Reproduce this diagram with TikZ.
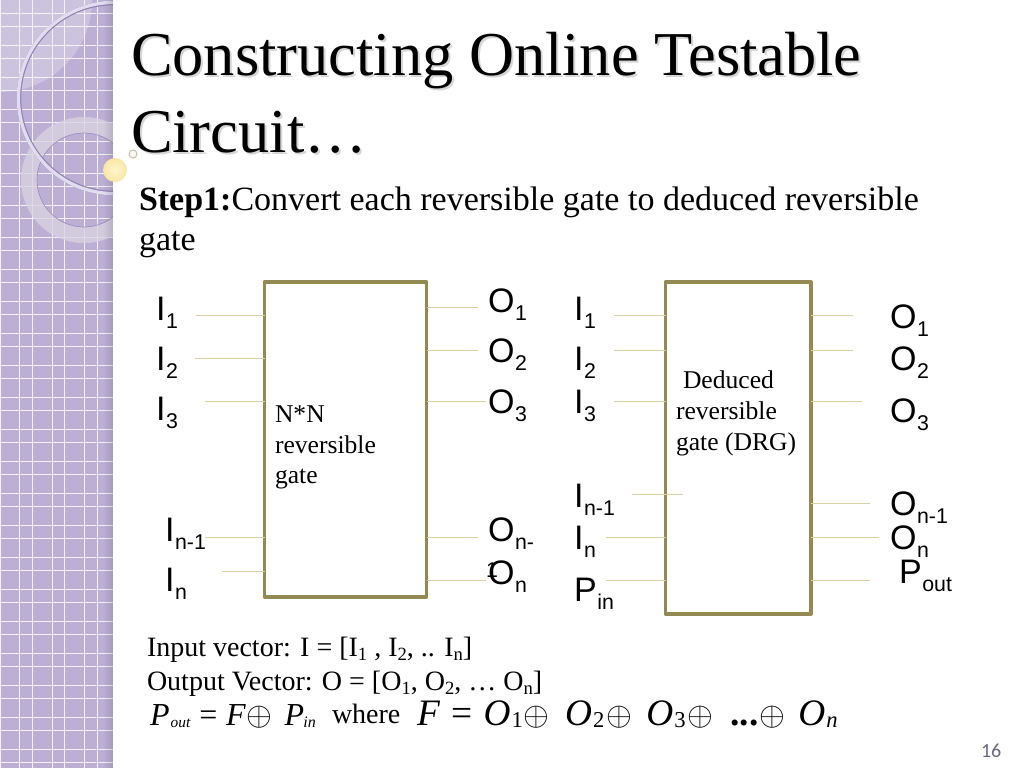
\documentclass[tikz,border=0pt]{standalone}
\usepackage{fontspec}
\setmainfont{Liberation Serif}
\newfontfamily\arialf{Liberation Sans}
\newfontfamily\pagef{Carlito}
\usetikzlibrary{calc}
\definecolor{sidebar}{HTML}{BCAFD5}
\definecolor{boxline}{HTML}{938953}
\definecolor{wire}{HTML}{D8CFA2}
\definecolor{gridline}{HTML}{F4F1F9}
\definecolor{arcdark}{HTML}{8F84B2}
\definecolor{arclight}{HTML}{E2DDEE}
\definecolor{ringfill}{HTML}{D8D4E0}
\definecolor{ringedge}{HTML}{9A8FBA}
\definecolor{pagenum}{HTML}{6C6780}
\definecolor{sunin}{HTML}{FFF6CC}
\definecolor{sunout}{HTML}{F8E6A4}
\newcommand\fsz[1]{\fontsize{#1}{#1}\selectfont}
\newcommand\lbl[2]{{\arialf\fsz{25.5}#1\kern0.5pt\raisebox{-6.5pt}{\fsz{16}#2}}}
\newcommand\vsub[1]{\raisebox{-3pt}{\fsz{14}#1}}
\newcommand\place[2]{\rlap{\kern#1pt #2}}
\newcommand\xorsym{\fsz{30}$\oplus$}
\tikzset{
  txt/.style={anchor=base west,inner sep=0pt,outer sep=0pt,text=black},
  titletxt/.style={txt,font=\fsz{46.8}},
  shadowtxt/.style={txt,font=\fsz{46.8},text=black!16},
  steptxt/.style={txt,font=\fsz{25.5}},
  gatetxt/.style={txt,font=\fsz{19.2}},
  vectxt/.style={txt,font=\fsz{21}},
  gatebox/.style={draw=boxline,line width=2.5pt,fill=white,inner sep=0pt,outer sep=0pt,line join=round},
  wireline/.style={draw=wire,line width=0.75pt},
}
\begin{document}
\begin{tikzpicture}[x=0.75pt,y=-0.75pt]
\useasboundingbox (0,0) rectangle (1024,768);
\fill[white] (0,0) rectangle (1024,768);
% sidebar
\begin{scope}
\clip (0,0) rectangle (113,768);
\fill[sidebar] (0,0) rectangle (113,768);
\fill[white,opacity=0.25] (0,0) circle[radius=92];
\foreach \k in {0,...,23}{
  \draw[gridline,line width=0.7pt] (0,13+32*\k) -- (113,13+32*\k);
  \draw[gridline,line width=0.7pt] (0,26+32*\k) -- (113,26+32*\k);
}
\foreach \vx in {0,19,32,52,64,84,97}{
  \draw[gridline,line width=0.7pt] (\vx,0) -- (\vx,768);
}
% ring
\fill[ringfill,opacity=0.78,even odd rule] (84,180) circle[radius=63] (84,180) circle[radius=47];
\draw[ringedge,line width=0.5pt] (84,180) circle[radius=47];
% large arc
\draw[arcdark,line width=3.4pt] (114,98) circle[radius=95];
\draw[arclight,line width=2.5pt] (114,98) circle[radius=95.6];
% shadow at the edge
\foreach \k in {0,...,9}{
  \fill[black!60!sidebar,opacity=0.02*\k] (103+\k,0) rectangle (104+\k,768);
}
\end{scope}
\shade[inner color=sunin,outer color=sunout] (115,170) circle[radius=12];
\draw[draw=boxline!55,fill=white!94!boxline,line width=0.7pt] (133,154) circle[radius=4];
% title
\node[shadowtxt] at (133,77) {Constructing Online Testable};
\node[shadowtxt] at (133,154.5) {Circuit…};
\node[titletxt] (title1) at (131,75) {Constructing Online Testable};
\node[titletxt] (title2) at (131,152.5) {Circuit…};
\node[steptxt] (step1) at (139,210) {\textbf{Step1:}Convert each reversible gate to deduced reversible};
\node[steptxt] (step2) at (139,250) {gate};
% boxes
\node[gatebox,minimum width=121.5pt,minimum height=236.25pt,anchor=north west] (lbox) at (264.5,282) {};
\node[gatebox,minimum width=109pt,minimum height=249pt,anchor=north west] (rbox) at (665.5,282) {};
% free ends of the wires
\foreach \n/\cx/\cy in {la/196/315,lb/195/358,lc/205/401,ld/205/537,le/222/571,
                        ma/478/307,mb/478/350,mc/486/401,md/478/537,me/486/580,
                        ra/614/315,rb/614/350,rc/614/401,re/606/537,rf/606/580,
                        sa/853/315,sb/853/350,sc/862/401,sd/870/503,se/879/537,sf/870/580}{
  \coordinate (\n) at (\cx,\cy);
}
\coordinate (rd) at (632,494);
\coordinate (rdend) at (683,494);
\foreach \n in {la,lb,lc,ld,le}{\draw[wireline] (\n) -- (\n -| lbox.west);}
\foreach \n in {ma,mb,mc,md,me}{\draw[wireline] (\n -| lbox.east) -- (\n);}
\foreach \n in {ra,rb,rc,re,rf}{\draw[wireline] (\n) -- (\n -| rbox.west);}
\foreach \n in {sa,sb,sc,sd,se,sf}{\draw[wireline] (\n -| rbox.east) -- (\n);}
\draw[wireline] (rd) -- (rdend);
% left labels
\node[txt] (li1) at (156,320) {\lbl{I}{1}};
\node[txt] (li2) at (156,370) {\lbl{I}{2}};
\node[txt] (li3) at (156,420) {\lbl{I}{3}};
\node[txt] (li4) at (165,541) {\lbl{I}{n-1}};
\node[txt] (li5) at (165,591) {\lbl{I}{n}};
\node[txt] (lo1) at (488,312) {\lbl{O}{1}};
\node[txt] (lo2) at (488,362) {\lbl{O}{2}};
\node[txt] (lo3) at (488,413) {\lbl{O}{3}};
\node[txt] (lo4) at (488,541) {\lbl{O}{n-}};
\node[txt,font=\arialf\fsz{16}] (lo4b) at (486,577) {1};
\node[txt] (lo5) at (488,584) {\lbl{O}{n}};
% right labels
\node[txt] (ri1) at (574,320) {\lbl{I}{1}};
\node[txt] (ri2) at (574,370) {\lbl{I}{2}};
\node[txt] (ri3) at (574,413) {\lbl{I}{3}};
\node[txt] (ri4) at (574,507) {\lbl{I}{n-1}};
\node[txt] (ri5) at (574,549) {\lbl{I}{n}};
\node[txt] (ri6) at (574,601) {\lbl{P}{in}};
\node[txt] (ro1) at (890,328) {\lbl{O}{1}};
\node[txt] (ro2) at (890,370) {\lbl{O}{2}};
\node[txt] (ro3) at (890,422) {\lbl{O}{3}};
\node[txt] (ro4) at (890,515) {\lbl{O}{n-1}};
\node[txt] (ro5) at (890,549) {\lbl{O}{n}};
\node[txt] (ro6) at (899,583) {\lbl{P}{out}};
% gate texts
\node[gatetxt] (g1) at (275,422) {N*N};
\node[gatetxt] (g2) at (275,453) {reversible};
\node[gatetxt] (g3) at (275,483) {gate};
\node[gatetxt] (d1) at (683,388) {Deduced};
\node[gatetxt] (d2) at (676,419) {reversible};
\node[gatetxt] (d3) at (676,450) {gate (DRG)};
% bottom
\node[vectxt] (v1) at (147,656) {Input vector: I = [I\vsub{1} , I\vsub{2}, .. I\vsub{n}]};
\node[vectxt] (v2) at (147,690) {Output Vector: O = [O\vsub{1}, O\vsub{2}, … O\vsub{n}]};
\node[txt,font=\fsz{24}] (f1) at (150,725) {\place{0}{\textit{P}}\place{15.5}{\raisebox{-2pt}{\fsz{11.5}\textit{out}}}\place{37}{=}\place{57}{\textit{F}}\place{72}{\xorsym}\place{101}{\textit{P}}\place{115}{\raisebox{-2pt}{\fsz{12}\textit{in}}}\kern126pt};
\node[vectxt] (w) at (332,723) {where};
\node[txt,font=\fsz{28}] (f2) at (417,725) {\place{0}{\textit{F}}\place{25.5}{=}\place{50}{\textit{O}}\place{71}{\raisebox{-1.5pt}{\fsz{17}1}}\place{80}{\xorsym}\place{111}{\textit{O}}\place{132}{\raisebox{-1.5pt}{\fsz{17}2}}\place{142}{\xorsym}\place{172}{\textit{O}}\place{193}{\raisebox{-1.5pt}{\fsz{17}3}}\place{203}{\xorsym}\place{235}{\textbf{...}}\place{257}{\xorsym}\place{286}{\textit{O}}\place{307}{\raisebox{-1.5pt}{\fsz{17}\textit{n}}}\kern316pt};
\node[txt,font=\pagef\fsz{15},text=pagenum] (pg) at (981,757) {16};
\end{tikzpicture}
\end{document}
